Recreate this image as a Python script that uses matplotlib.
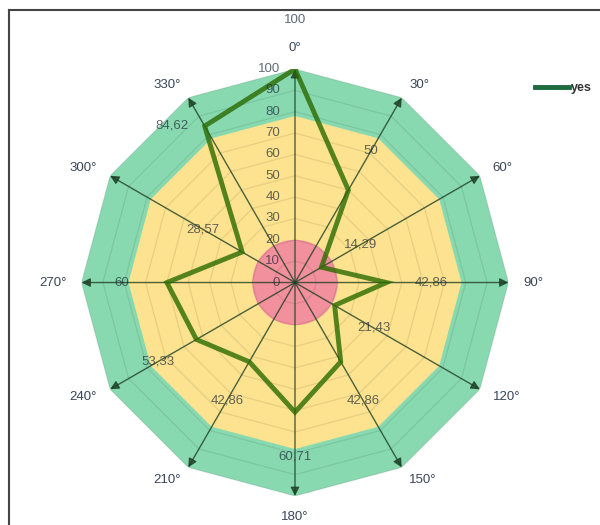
import numpy as np
import matplotlib
matplotlib.use("Agg")
import matplotlib.pyplot as plt
from matplotlib.lines import Line2D

# ---- data ----
angles_deg = [0, 30, 60, 90, 120, 150, 180, 210, 240, 270, 300, 330]
values = [100, 50, 14.29, 42.86, 21.43, 42.86, 60.71, 42.86, 53.33, 60, 28.57, 84.62]
series_name = "yes"
radial_ticks = [0, 10, 20, 30, 40, 50, 60, 70, 80, 90, 100]
band_red = 20
band_yellow = 78
band_green = 100

plt.rcParams['font.family'] = ['Liberation Sans', 'DejaVu Sans']

C_GREEN = '#88d9b0'
C_YELLOW = '#fde38f'
C_RED = '#f3909d'
C_LINE = '#2a6a00'
C_TEXT = '#3a4556'

fig = plt.figure(figsize=(6, 5.25), dpi=100)
ax = fig.add_axes([0.1358, 0.0552, 0.7117, 0.8133], projection='polar')
ax.set_theta_zero_location('N')
ax.set_theta_direction(-1)
ax.set_ylim(0, 100)
ax.set_axis_off()

th = np.deg2rad(angles_deg)
th_c = np.append(th, th[0])

# bands
ax.fill(th_c, np.full(len(th_c), band_green), color=C_GREEN, lw=0, zorder=1)
ax.fill(th_c, np.full(len(th_c), band_yellow), color=C_YELLOW, lw=0, zorder=1.1)
circ = np.linspace(0, 2 * np.pi, 361)
ax.fill(circ, np.full(len(circ), band_red), color=C_RED, lw=0, zorder=1.2)

# polygon gridlines
for r in radial_ticks[1:]:
    ax.plot(th_c, np.full(len(th_c), r), color='k', alpha=0.09, lw=0.9, zorder=1.5)

# spokes with arrows
for t in th:
    ax.annotate('', xy=(t, 100), xytext=(t, 0),
                arrowprops=dict(arrowstyle='-|>', color='#1e3f24', alpha=0.8, lw=1.0,
                                mutation_scale=13, shrinkA=0, shrinkB=0),
                zorder=2)

# series line
vals_c = np.append(values, values[0])
ax.plot(th_c, vals_c, color=C_LINE, alpha=0.8, lw=3.5, solid_joinstyle='miter', zorder=3)

# radial tick labels
for r in radial_ticks:
    ax.annotate(str(r), xy=(0, r), xytext=(-15, 0), textcoords='offset pixels',
                ha='right', va='center', fontsize=9.5, color='#1e2a38', alpha=0.7, zorder=4)

# data labels
def fmt(v):
    s = f"{v:.2f}".rstrip('0').rstrip('.')
    return s.replace('.', ',')

label_override = {330: (322, 93.6)}
for a, v in zip(angles_deg, values):
    if a in label_override:
        la, lr = label_override[a]
    else:
        la, lr = a, v + 21 + (2 if v >= 100 else 0)
    ax.text(np.deg2rad(la), lr, fmt(v), ha='center', va='center', fontsize=9.5,
            color='#1e2a38', alpha=0.7, zorder=4)

# angle labels
for a, t in zip(angles_deg, th):
    if a == 0:
        ha, va = 'center', 'bottom'
    elif a == 180:
        ha, va = 'center', 'top'
    elif a < 180:
        ha, va = 'left', 'center'
    else:
        ha, va = 'right', 'center'
    ax.text(t, 107, f"{a}°", ha=ha, va=va, fontsize=9.5, color=C_TEXT, zorder=4)

# legend
handle = Line2D([], [], color='#1d6b3f', lw=3.5)
leg = fig.legend([handle], [series_name], loc='center left',
                 bbox_to_anchor=(535 / 600, 1 - 88 / 525), frameon=False,
                 handlelength=2.7, handletextpad=0.15, borderpad=0, borderaxespad=0,
                 prop={'size': 9, 'weight': 'bold'})
for txt in leg.get_texts():
    txt.set_color('#333333')

# frame lines
fig.add_artist(Line2D([9 / 600, 1], [1 - 10 / 525, 1 - 10 / 525], transform=fig.transFigure,
                      color='#444444', lw=1.5))
fig.add_artist(Line2D([9 / 600, 9 / 600], [0, 1 - 10 / 525], transform=fig.transFigure,
                      color='#444444', lw=1.5))

fig.savefig('out.png', dpi=100)
